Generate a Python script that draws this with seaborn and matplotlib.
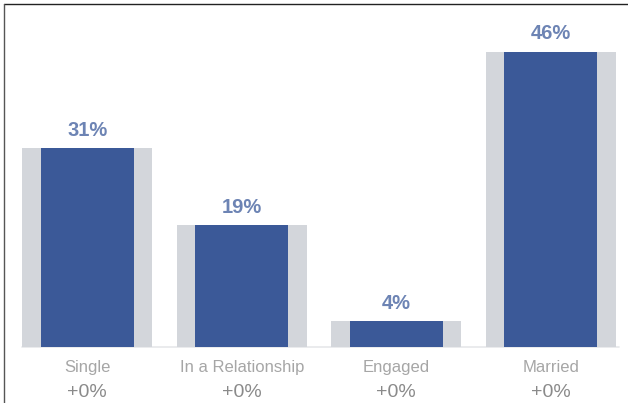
import matplotlib
matplotlib.use("Agg")
import matplotlib.pyplot as plt
from matplotlib.lines import Line2D
from matplotlib.transforms import blended_transform_factory
import seaborn as sns

# data
categories = ["Single", "In a Relationship", "Engaged", "Married"]
shares = [31, 19, 4, 46]
changes = ["+0%", "+0%", "+0%", "+0%"]

sns.set_style("white")
plt.rcParams["font.family"] = ["Liberation Sans", "DejaVu Sans"]

fig = plt.figure(figsize=(6.28, 4.03), dpi=100)
ax = fig.add_axes([10 / 628, (403 - 347) / 403, 618 / 628, (347 - 5) / 403])

# faint baseline under the bars
ax.axhline(0, xmin=0.02, xmax=0.985, color="#e6e7ea", lw=1.2, zorder=0,
           clip_on=False)

# grey backdrop bars, then the blue ones on top
sns.barplot(x=categories, y=shares, color="#d3d6db", width=0.84,
            saturation=1, linewidth=0, ax=ax)
sns.barplot(x=categories, y=shares, color="#3b5998", width=0.6,
            saturation=1, linewidth=0, ax=ax)

for i, v in enumerate(shares):
    ax.annotate(f"{v}%", (i, v), xytext=(0, 9), textcoords="offset points",
                ha="center", va="baseline", color="#6d84b4",
                fontsize=14.5, fontweight="bold")

ax.set_xlim(-0.5, 3.5)
ax.set_ylim(0, 53.3)
ax.set_xticks([])
ax.set_yticks([])
ax.set_xlabel("")
ax.set_ylabel("")
sns.despine(ax=ax, left=True, bottom=True)

trans = blended_transform_factory(ax.transData, fig.transFigure)
for i, (cat, chg) in enumerate(zip(categories, changes)):
    ax.text(i, 1 - 372 / 403, cat, transform=trans, ha="center",
            va="baseline", color="#a6a6a6", fontsize=12)
    ax.text(i, 1 - 397 / 403, chg, transform=trans, ha="center",
            va="baseline", color="#8a8a8a", fontsize=14)

# thin frame on the top and left edges of the screenshot
fig.add_artist(Line2D([4 / 628, 1], [1 - 4 / 403, 1 - 4 / 403],
                      transform=fig.transFigure, color="#222222", lw=1))
fig.add_artist(Line2D([4 / 628, 4 / 628], [0, 1 - 4 / 403],
                      transform=fig.transFigure, color="#555555", lw=1))

fig.savefig("out.png", dpi=100)
